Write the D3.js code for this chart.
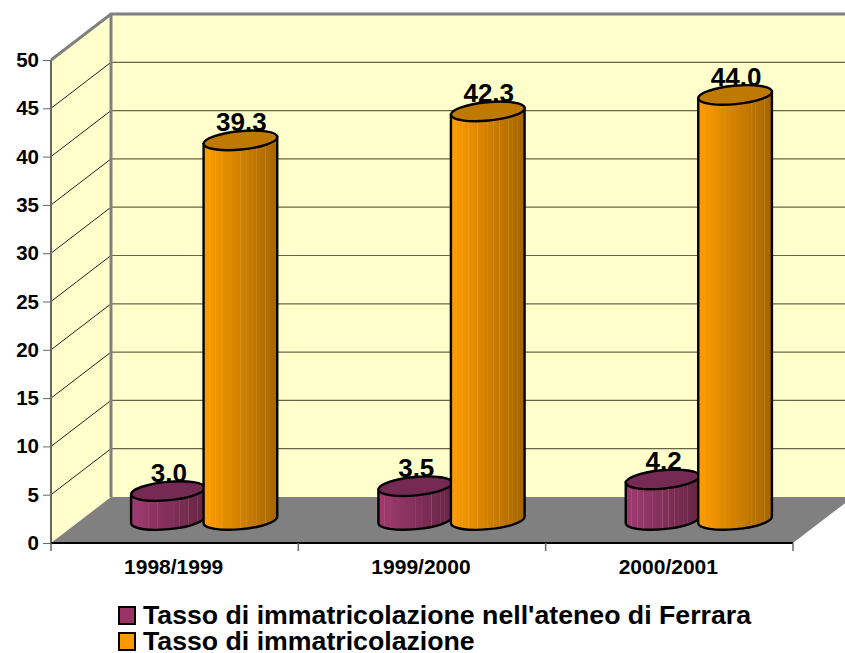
<!DOCTYPE html>
<html><head><meta charset="utf-8">
<script src="https://d3js.org/d3.v7.min.js"></script>
<style>html,body{margin:0;padding:0;background:#fff;overflow:hidden}svg{display:block}
text{font-family:"Liberation Sans",Arial,sans-serif;font-weight:bold;fill:#000}</style>
</head><body>
<script>
const categories = ["1998/1999","1999/2000","2000/2001"];
const seriesNames = ["Tasso di immatricolazione nell'ateneo di Ferrara","Tasso di immatricolazione"];
const ferrara = [3.0,3.5,4.2];
const nazionale = [39.3,42.3,44.0];
const yTicks = [0,5,10,15,20,25,30,35,40,45,50];
const seriesValues = [ferrara,nazionale];

const W=845,H=653,DX=60,DY=-46;
const svg=d3.select("body").append("svg").attr("width",W).attr("height",H);
const y=d3.scaleLinear().domain([0,50]).range([543,60]);
const x=d3.scaleBand().domain(categories).range([51,793]);
const x1=d3.scaleBand().domain([0,1]).range([-73,72]);
const x0=x.range()[0],x9=x.range()[1],y0=y(0),y50=y(50);
const line=d3.line();

// walls and floor
svg.append("path").attr("d",line([[x0,y50],[x0+DX,y50+DY],[x0+DX,y0+DY],[x0,y0]])+"Z").attr("fill","#ffffcc");
svg.append("rect").attr("x",x0+DX).attr("y",y50+DY).attr("width",W-x0-DX).attr("height",y0-y50).attr("fill","#ffffcc");
svg.append("path").attr("d",line([[x0,y0],[x0+DX,y0+DY],[x9+DX,y0+DY],[x9,y0]])+"Z").attr("fill","#808080");
// grid
yTicks.filter(v=>v>0&&v<50).forEach(v=>{
  svg.append("line").attr("x1",x0).attr("y1",y(v)).attr("x2",x0+DX).attr("y2",y(v)+DY).attr("stroke","#222").attr("stroke-width",1);
  svg.append("line").attr("x1",x0+DX).attr("y1",y(v)+DY).attr("x2",W).attr("y2",y(v)+DY).attr("stroke","#66664a").attr("stroke-width",1.2);
});
svg.append("path").attr("d",line([[x0,y50],[x0+DX,y50+DY],[W,y50+DY]])).attr("fill","none").attr("stroke","#808080").attr("stroke-width",3);
svg.append("line").attr("x1",x0+DX).attr("y1",y50+DY).attr("x2",x0+DX).attr("y2",y0+DY).attr("stroke","#808080").attr("stroke-width",3);

// axes
const yAxis=d3.axisLeft(y).tickValues(yTicks).tickSize(8).tickPadding(4);
const gy=svg.append("g").attr("transform",`translate(${x0},0)`).call(yAxis);
gy.select(".domain").attr("stroke","#666").attr("stroke-width",2).attr("d",`M0,${y50}V${y0}`);
gy.selectAll(".tick line").attr("stroke","#666").attr("stroke-width",1);
gy.selectAll("text").style("font-size","20.5px").style("font-family",'"Liberation Sans"').style("font-weight","bold").attr("fill","#000");
const xAxis=d3.axisBottom(x).tickSize(0).tickPadding(16);
const gx=svg.append("g").attr("transform",`translate(0,${y0})`).call(xAxis);
gx.select(".domain").attr("stroke","#000").attr("stroke-width",2).attr("d",`M${x0},0H${x9}`);
gx.selectAll("text").attr("dx",-1).style("font-size","21px").style("font-family",'"Liberation Sans"').style("font-weight","bold").attr("fill","#000");
svg.append("g").selectAll("line").data(categories.map(c=>x(c)).concat([x9])).join("line")
  .attr("x1",d=>d).attr("x2",d=>d).attr("y1",y0).attr("y2",y0+8).attr("stroke","#666").attr("stroke-width",1.5);

// gradients
const defs=svg.append("defs");
const ramps=[["#a03a70","#662545","#742a52"],["#ff9d00","#a46500","#bf7800"]];
const streaks=[.08,.16,.24,.36,.5,.58,.66,.72,.78,.84,.9];
ramps.forEach((r,i)=>{
  const g=defs.append("linearGradient").attr("id","cyl"+i).attr("x1","0").attr("x2","1").attr("y1","0").attr("y2","0");
  const col=d3.interpolateRgb(r[0],r[1]);
  g.append("stop").attr("offset",0).attr("stop-color",col(0));
  streaks.forEach(s=>{
    const lighter=d3.interpolateRgb(col(s),"#ffe0a0")(.18);
    g.append("stop").attr("offset",s-.006).attr("stop-color",col(s-.006));
    g.append("stop").attr("offset",s).attr("stop-color",lighter);
    g.append("stop").attr("offset",s+.006).attr("stop-color",col(s+.006));
  });
  g.append("stop").attr("offset",1).attr("stop-color",col(1));
});

// cylinders
const RX=37,RY=9.2,T=5.4,cos=Math.cos(T*Math.PI/180),sin=Math.sin(T*Math.PI/180);
const rows=[];
categories.forEach((c,ci)=>seriesValues.forEach((vals,si)=>rows.push({c,si,v:vals[ci]})));
rows.sort((a,b)=>a.si-b.si);
const cx=d=>x(d.c)+x.bandwidth()/2+DX/2+x1(d.si)+x1.bandwidth()/2;
const baseY=y0+DY/2;
const topY=d=>y(d.v)+DY/2;
rows.forEach(d=>{
  const X=cx(d),Yt=topY(d),ax=RX*cos,ay=RX*sin;
  const g=svg.append("g");
  g.append("text").attr("x",X+1).attr("y",Yt-9).attr("text-anchor","middle").style("font-size","26px").text(d.v.toFixed(1));
  g.append("path").attr("d",`M${X-ax},${Yt+ay}L${X-ax},${baseY+ay}A${RX},${RY} ${-T} 0 0 ${X+ax},${baseY-ay}L${X+ax},${Yt-ay}Z`)
    .attr("fill",`url(#cyl${d.si})`).attr("stroke","#000").attr("stroke-width",2.4);
  g.append("ellipse").attr("cx",0).attr("cy",0).attr("rx",RX).attr("ry",RY)
    .attr("transform",`translate(${X},${Yt}) rotate(${-T})`)
    .attr("fill",ramps[d.si][2]).attr("stroke","#000").attr("stroke-width",2.4);
});

// legend
const legY=[615,641];
const leg=svg.append("g").selectAll("g").data(seriesNames).join("g").attr("transform",(d,i)=>`translate(118,${legY[i]})`);
leg.append("rect").attr("x",1).attr("y",-8).attr("width",16).attr("height",17)
  .attr("fill",(d,i)=>i?"#ff9900":"#993366").attr("stroke","#000").attr("stroke-width",2);
leg.append("text").attr("x",25).attr("y",9).style("font-size","26.7px").text(d=>d);
</script>
</body></html>
